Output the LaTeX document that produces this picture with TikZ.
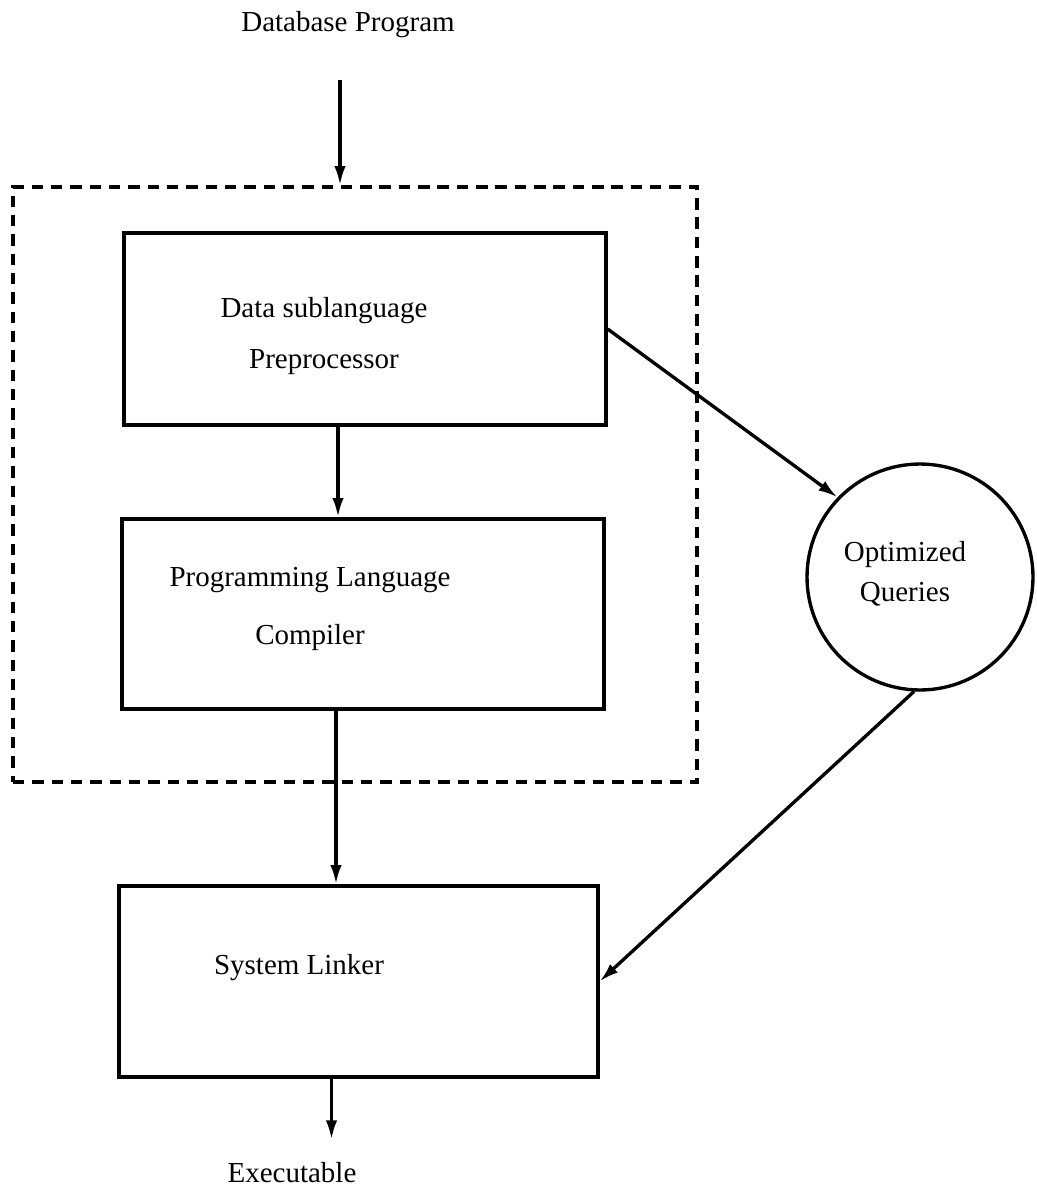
\documentclass[tikz,border=0pt]{standalone}
\usepackage{fontspec}
\setmainfont{Liberation Serif}
\usepackage{tikz}
\usetikzlibrary{arrows.meta,calc}

\begin{document}
\begin{tikzpicture}[x=0.02cm, y=-0.02cm,
    every node/.style={font=\fontsize{16.5}{19.5}\selectfont},
    box/.style={draw, line width=1.9pt, inner sep=0pt},
    fence/.style={draw, line width=1.9pt, dash pattern=on 6.5pt off 4.5pt, inner sep=0pt},
    flow/.style={line width=1.9pt, -{Latex[length=11pt,width=6.5pt]}}]
    %% Background
    \useasboundingbox (0,0) rectangle (1037,1190);
    %% Dashed frame
    \node[fence, minimum width=13.68cm, minimum height=11.9cm] (fence) at (355,484.5) {};
    %% Boxes
    \node[box, minimum width=9.64cm, minimum height=3.84cm] (prep) at (365,329) {};
    \node[box, minimum width=9.64cm, minimum height=3.8cm] (comp) at (363,614) {};
    \node[box, minimum width=9.58cm, minimum height=3.82cm] (link) at (358.5,981.5) {};
    \node[draw, circle, line width=1.9pt, minimum size=4.52cm, inner sep=0pt] (oq) at (920,577) {};
    %% Labels
    \node (title) at (348,25) {Database Program};
    \node[align=center] (preplabel) at (324,336) {Data sublanguage\\[10pt]Preprocessor};
    \node[align=center] (complabel) at (310,609) {Programming Language\\[13.5pt]Compiler};
    \node (linklabel) at (299,968) {System Linker};
    \node[align=center] (oqlabel) at (905,574) {Optimized\\[3.5pt]Queries};
    \node (exe) at (292,1173) {Executable};
    %% Arrows
    \coordinate (src) at (340,80);
    \draw[flow] (src) -- (src |- fence.north);
    \draw[flow] ($(prep.south)+(-27,0)$) coordinate (a1) -- (a1 |- comp.north);
    \draw[flow] ($(comp.south)+(-27,0)$) coordinate (a2) -- (a2 |- link.north);
    \draw[flow] ($(link.south)+(-27,0)$) coordinate (a3) -- ++(0,61);
    \draw[flow] (prep.east) -- (oq.136);
    \draw[flow] (oq.267) -- (link.east);
\end{tikzpicture}
\end{document}
